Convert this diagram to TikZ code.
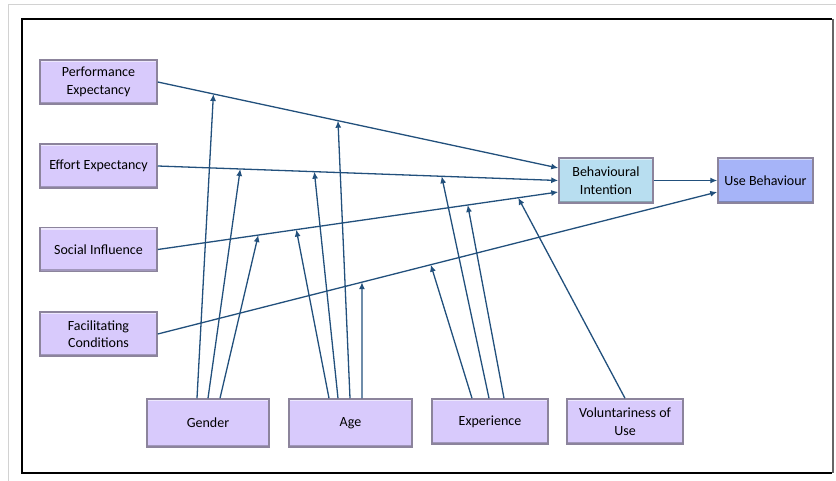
\documentclass[tikz,border=0pt]{standalone}
\usepackage{fontspec}
\setmainfont{Carlito}
\usetikzlibrary{arrows.meta}
\definecolor{boxfill}{RGB}{216,202,252}
\definecolor{bifill}{RGB}{184,222,240}
\definecolor{ubfill}{RGB}{166,180,248}
\definecolor{boxedge}{RGB}{140,132,156}
\definecolor{linkcol}{RGB}{34,80,124}
\tikzset{
  x=1pt, y=-1pt,
  box/.style={draw=boxedge, line width=1.5pt, fill=boxfill, align=center,
    inner sep=2pt, font=\fontsize{14}{17.5}\selectfont,
    path picture={
      \draw[white, opacity=0.55, line width=1.8pt]
        ([yshift=-1.2pt]path picture bounding box.north west) --
        ([yshift=-1.2pt]path picture bounding box.north east);
      \draw[black, opacity=0.25, line width=1.8pt]
        ([yshift=1.2pt]path picture bounding box.south west) --
        ([yshift=1.2pt]path picture bounding box.south east);
    }},
  link/.style={draw=linkcol, line width=1.3pt,
    -{Latex[length=7pt,width=6pt]}}
}
\begin{document}
\begin{tikzpicture}
\useasboundingbox (0,0) rectangle (836,481);
% page edges and frame
\draw[gray!35, line width=1pt] (8,481) -- (8,5) -- (836,5);
\draw[black, line width=1.2pt] (832,19) -- (22,19) -- (22,473) -- (832,473);
\draw[gray!80!black, line width=2pt] (833,19) -- (833,473);

% constructs
\node[box, minimum width=117, minimum height=44] (PE) at (98.5,82) {Performance\\Expectancy};
\node[box, minimum width=117, minimum height=44] (EE) at (98.5,166) {Effort Expectancy};
\node[box, minimum width=117, minimum height=44] (SI) at (98.5,249.5) {Social Influence};
\node[box, minimum width=117, minimum height=44] (FC) at (98.5,334) {Facilitating\\Conditions};
\node[box, fill=bifill, minimum width=94, minimum height=45] (BI) at (606,180.5) {Behavioural\\Intention};
\node[box, fill=ubfill, minimum width=95, minimum height=45] (UB) at (765.5,180.5) {Use Behaviour};

% moderators
\node[box, minimum width=122, minimum height=48] (G) at (208,423) {Gender};
\node[box, minimum width=123, minimum height=48] (A) at (350.5,423) {Age};
\node[box, minimum width=116, minimum height=45] (X) at (490,421.5) {Experience};
\node[box, minimum width=116, minimum height=45] (V) at (625,421.5) {Voluntariness of\\Use};

% main paths, with points where moderators attach
\draw[link] (PE.east) -- coordinate[pos=0.139] (pe1) coordinate[pos=0.450] (pe2)
  ([yshift=12.5pt]BI.west);
\draw[link] (EE.east) -- coordinate[pos=0.206] (ee1) coordinate[pos=0.391] (ee2)
  coordinate[pos=0.709] (ee3) (BI.west);
\draw[link] (SI.east) -- coordinate[pos=0.251] (si1) coordinate[pos=0.346] (si2)
  coordinate[pos=0.774] (si3) coordinate[pos=0.900] (si4) ([yshift=-11.5pt]BI.west);
\draw[link] (FC.east) -- coordinate[pos=0.365] (fc1) coordinate[pos=0.488] (fc2)
  ([yshift=-11.5pt]UB.west);
\draw[link] (BI.east) -- (UB.west);

% moderating effects
\draw[link] ([xshift=-11pt]G.north) -- (pe1);
\draw[link] (G.north) -- (ee1);
\draw[link] ([xshift=12pt]G.north) -- (si1);
\draw[link] ([xshift=-21.5pt]A.north) -- (si2);
\draw[link] ([xshift=-12.5pt]A.north) -- (ee2);
\draw[link] ([xshift=-0.5pt]A.north) -- (pe2);
\draw[link] ([xshift=11.5pt]A.north) -- (fc1);
\draw[link] ([xshift=-18pt]X.north) -- (fc2);
\draw[link] ([xshift=-1pt]X.north) -- (ee3);
\draw[link] ([xshift=14pt]X.north) -- (si3);
\draw[link] (V.north) -- (si4);
\end{tikzpicture}
\end{document}
